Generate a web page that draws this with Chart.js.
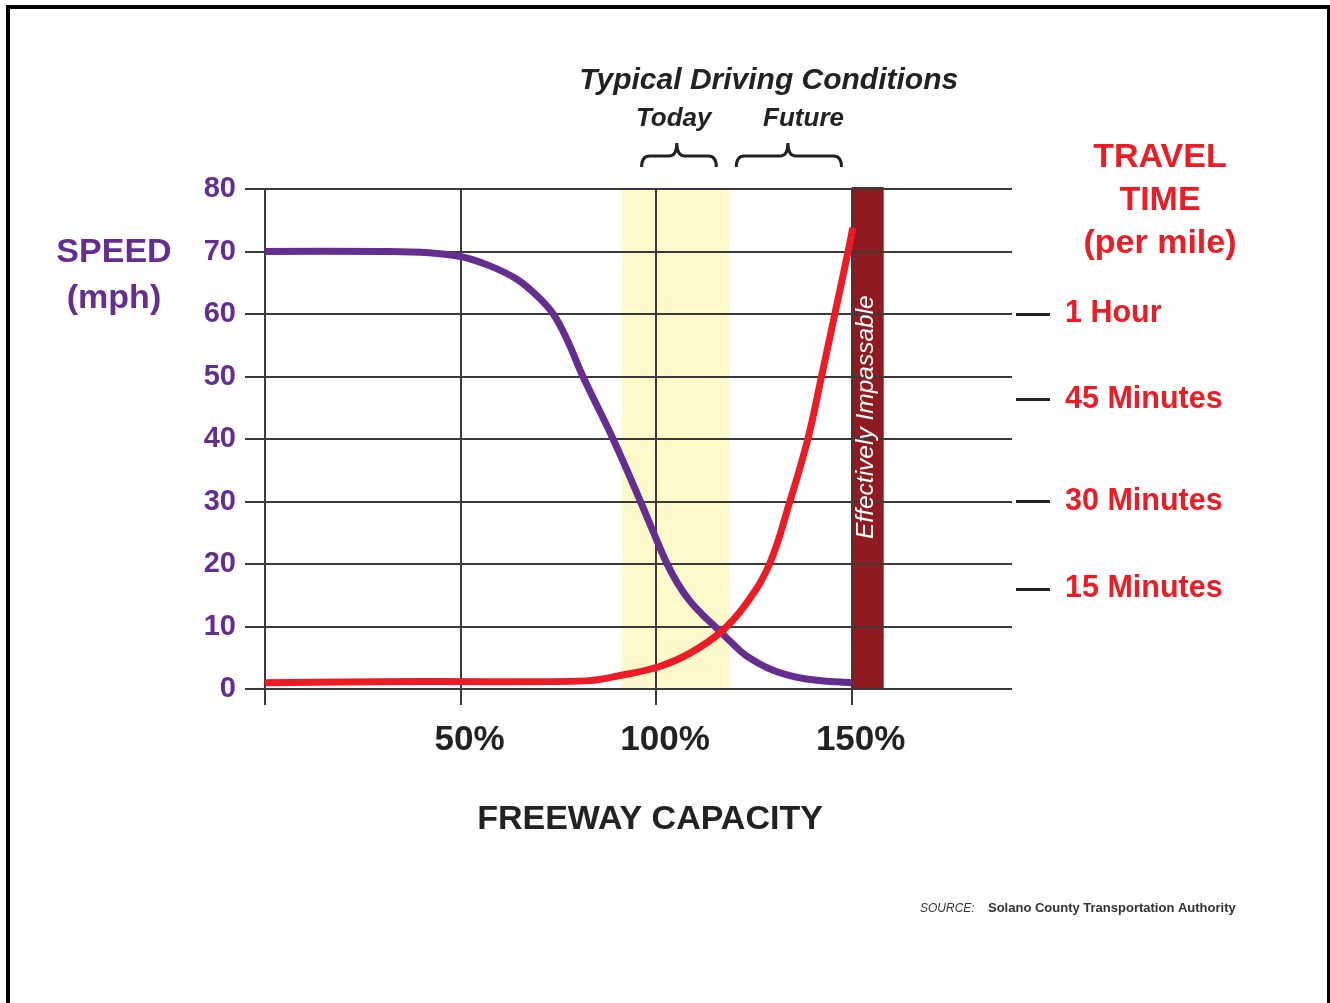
<!DOCTYPE html>
<html>
<head>
<meta charset="utf-8">
<title>Freeway Capacity vs Speed</title>
<script src="https://cdn.jsdelivr.net/npm/chart.js@4.4.1/dist/chart.umd.min.js"></script>
<style>
    body { margin: 0; background: #fff; overflow: hidden; }
    #wrap { position: absolute; left: 0; top: 0; width: 1330px; height: 1003px; }
    #frame {
        position: absolute; left: 6px; top: 5px; width: 1325px; height: 1100px;
        box-sizing: border-box; border: 4px solid #000; pointer-events: none;
    }
</style>
</head>
<body>
<div id="wrap"><canvas id="chart"></canvas></div>
<div id="frame"></div>
<script>
// Speed curve (capacity %, mph)
const speedCapacity = [0, 30, 42, 50, 57.5, 64.3, 69.4, 73.7, 77.3, 81.3, 89, 96, 99.5, 102.6, 105.5, 108.6, 112, 115.4, 119, 123.1, 129.9, 138.4, 150];
const speedMph = [70, 70, 69.8, 69.2, 67.7, 65.6, 63, 60, 55.8, 50, 40, 30, 24.8, 20.3, 16.9, 14.1, 11.8, 9.8, 7.6, 5.3, 3, 1.6, 1.0];

// Travel time curve, drawn on the same 0-80 scale
const travelCapacity = [0, 40, 82, 91.2, 100.9, 108.6, 116.7, 123.1, 129, 134.2, 138.8, 142.3, 145.7, 149.1, 150.3];
const travelValue = [1.0, 1.2, 1.3, 2.2, 3.6, 5.7, 9.2, 13.7, 20, 30, 40, 50, 60, 70, 73.8];

// Axes
const capacityTicks = [0, 50, 100, 150];
const speedTicks = [0, 10, 20, 30, 40, 50, 60, 70, 80];
const travelTicks = [60, 46.3, 30, 16];
const travelLabels = ['1 Hour', '45 Minutes', '30 Minutes', '15 Minutes'];

// Shaded ranges and brackets (capacity %)
const todayBand = [91.2, 118.8];
const impassableBand = [150, 158.2];
const bracketLabels = ['Today', 'Future'];
const bracketStart = [96.3, 120.5];
const bracketEnd = [115.4, 147.4];
const bracketTip = [105.3, 133.7];
const bracketLabelAt = [104.5, 137.7];
const headerAt = 128.8;

const FONT = "'Liberation Sans', Arial, Helvetica, sans-serif";
const PURPLE = '#662d91';
const RED = '#ed1c24';
const INK = '#222';
const GRID = '#3a3a3a';

Chart.defaults.font.family = FONT;

const overlay = {
    id: 'overlay',
    beforeDraw(chart) {
        const ctx = chart.ctx;
        const x = chart.scales.x;
        const area = chart.chartArea;
        ctx.save();
        ctx.fillStyle = '#fef9ca';
        ctx.fillRect(x.getPixelForValue(todayBand[0]), area.top, x.getPixelForValue(todayBand[1]) - x.getPixelForValue(todayBand[0]), area.bottom - area.top);
        ctx.fillStyle = '#8f1a1f';
        ctx.fillRect(x.getPixelForValue(impassableBand[0]), area.top - 2, x.getPixelForValue(impassableBand[1]) - x.getPixelForValue(impassableBand[0]), area.bottom - area.top + 2);
        ctx.restore();
    },
    afterDraw(chart) {
        const ctx = chart.ctx;
        const x = chart.scales.x;
        const y = chart.scales.y;
        ctx.save();
        ctx.textAlign = 'center';
        ctx.textBaseline = 'middle';

        // header
        ctx.fillStyle = INK;
        ctx.font = 'italic bold 30px ' + FONT;
        ctx.fillText('Typical Driving Conditions', x.getPixelForValue(headerAt), 81);
        ctx.font = 'italic bold 26px ' + FONT;
        bracketLabels.forEach((lab, i) => {
            ctx.fillText(lab, x.getPixelForValue(bracketLabelAt[i]), 119);
        });

        // braces
        ctx.strokeStyle = INK;
        ctx.lineWidth = 3;
        bracketLabels.forEach((lab, i) => {
            const a = x.getPixelForValue(bracketStart[i]);
            const b = x.getPixelForValue(bracketEnd[i]);
            const m = x.getPixelForValue(bracketTip[i]);
            const top = 143, mid = 156, bot = 167, r = 8;
            ctx.beginPath();
            ctx.moveTo(a, bot);
            ctx.quadraticCurveTo(a, mid, a + r, mid);
            ctx.lineTo(m - r, mid);
            ctx.quadraticCurveTo(m, mid, m, top);
            ctx.quadraticCurveTo(m, mid, m + r, mid);
            ctx.lineTo(b - r, mid);
            ctx.quadraticCurveTo(b, mid, b, bot);
            ctx.stroke();
        });

        // axis titles
        ctx.font = 'bold 34px ' + FONT;
        ctx.fillStyle = PURPLE;
        ctx.fillText('SPEED', 114, 253);
        ctx.fillText('(mph)', 114, 299);
        ctx.fillStyle = RED;
        ctx.fillText('TRAVEL', 1160, 158);
        ctx.fillText('TIME', 1160, 201);
        ctx.fillText('(per mile)', 1160, 244);
        ctx.fillStyle = INK;
        ctx.fillText('FREEWAY CAPACITY', 650, 820);

        // label inside the dark band
        ctx.save();
        const bx = (x.getPixelForValue(impassableBand[0]) + x.getPixelForValue(impassableBand[1])) / 2;
        ctx.translate(bx - 1, y.getPixelForValue(43.5));
        ctx.rotate(-Math.PI / 2);
        ctx.fillStyle = '#fff';
        ctx.font = 'italic 24.5px ' + FONT;
        ctx.fillText('Effectively Impassable', 0, 0);
        ctx.restore();

        // source
        ctx.textAlign = 'left';
        ctx.textBaseline = 'alphabetic';
        ctx.fillStyle = '#333';
        ctx.font = 'italic 12px ' + FONT;
        ctx.fillText('SOURCE:', 920, 912);
        ctx.font = 'bold 13px ' + FONT;
        ctx.fillText('Solano County Transportation Authority', 988, 912);
        ctx.restore();
    }
};

const toPoints = (xs, ys) => xs.map((v, i) => ({ x: v, y: ys[i] }));

new Chart(document.getElementById('chart'), {
    type: 'line',
    data: {
        datasets: [
            {
                label: 'Travel Time',
                data: toPoints(travelCapacity, travelValue),
                borderColor: RED,
                borderWidth: 7,
                pointRadius: 0,
                tension: 0.4,
                yAxisID: 'y'
            },
            {
                label: 'Speed',
                data: toPoints(speedCapacity, speedMph),
                borderColor: PURPLE,
                borderWidth: 7,
                pointRadius: 0,
                tension: 0.4,
                yAxisID: 'y'
            }
        ]
    },
    options: {
        responsive: true,
        maintainAspectRatio: false,
        animation: false,
        layout: { padding: { top: 189 } },
        plugins: {
            legend: { display: false },
            tooltip: { enabled: false }
        },
        scales: {
            x: {
                type: 'linear',
                min: 0,
                max: 191,
                afterBuildTicks: s => { s.ticks = capacityTicks.map(v => ({ value: v })); },
                afterFit: s => { s.height = 1003 - 689; },
                border: { display: false },
                grid: { color: GRID, lineWidth: 2, tickLength: 16 },
                ticks: {
                    color: INK,
                    font: { size: 35, weight: 'bold' },
                    padding: 14,
                    labelOffset: 9,
                    maxRotation: 0,
                    autoSkip: false,
                    callback: v => (v === 0 ? '' : v + '%')
                }
            },
            y: {
                position: 'left',
                min: 0,
                max: 80,
                afterBuildTicks: s => { s.ticks = speedTicks.map(v => ({ value: v })); },
                afterFit: s => { s.width = 265; },
                border: { display: true, color: GRID, width: 2 },
                grid: { color: GRID, lineWidth: 2, tickLength: 20 },
                ticks: {
                    color: PURPLE,
                    font: { size: 29, weight: 'bold' },
                    padding: 9
                }
            },
            y2: {
                position: 'right',
                min: 0,
                max: 80,
                afterBuildTicks: s => { s.ticks = travelTicks.map(v => ({ value: v })); },
                afterFit: s => { s.width = 1330 - 1012; },
                border: { display: false },
                grid: {
                    drawOnChartArea: false,
                    tickLength: 38,
                    tickWidth: 3,
                    tickColor: INK,
                    tickBorderDash: [0, 4, 34, 10]
                },
                ticks: {
                    color: RED,
                    font: { size: 30.5, weight: 'bold' },
                    padding: 15,
                    autoSkip: false,
                    callback: (v, i) => travelLabels[i]
                }
            }
        }
    },
    plugins: [overlay]
});
</script>
</body>
</html>
